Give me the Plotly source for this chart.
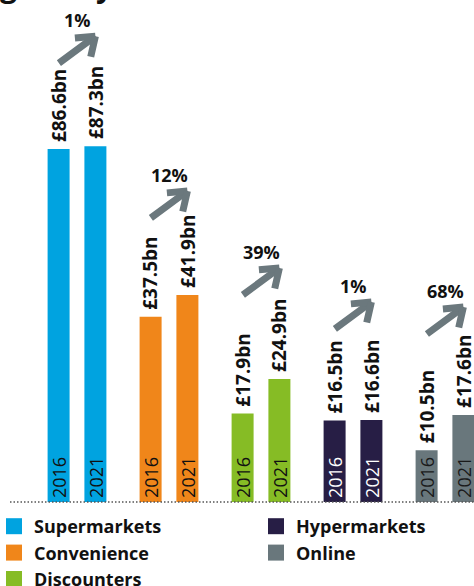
import plotly.graph_objects as go

channels = ["Supermarkets", "Convenience", "Discounters", "Hypermarkets", "Online"]
years = ["2016", "2021"]
sales_2016 = [86.6, 37.5, 17.9, 16.5, 10.5]
sales_2021 = [87.3, 41.9, 24.9, 16.6, 17.6]
growth_labels = ["1%", "12%", "39%", "1%", "68%"]

colors = ["#00A3E0", "#F0861A", "#86BC25", "#271E45", "#69777C"]
year_text_colors = ["#111111", "#111111", "#111111", "#FFFFFF", "#1A1A1A"]
legend_groups = ["legend", "legend", "legend", "legend2", "legend2"]
arrow_lift_px = [110, 104, 111, 118, 108]   # arrow head height above the 2021 bar

W, H = 474, 586
BASE_PX = 502            # pixel row of the zero line
PX_PER_BN = 4.94         # main scale
PX_PER_BN_SUPER = 4.076  # compressed scale for the supermarket pair
GROUP_PX = 92
FIRST_GROUP_PX = 77
OFFSET = 0.2
BAR_W = 22 / GROUP_PX
FONT = "Open Sans"
ARROW_COLOR = "#6B787D"

fig = go.Figure()

for i, ch in enumerate(channels):
    yax = "y2" if i == 0 else "y"
    fig.add_trace(go.Bar(
        x=[i - OFFSET, i + OFFSET],
        y=[sales_2016[i], sales_2021[i]],
        width=BAR_W,
        marker=dict(color=colors[i], line=dict(width=0)),
        name=ch,
        legendgroup=ch,
        showlegend=False,
        yaxis=yax,
        hovertemplate=ch + " %{customdata}: £%{y}bn<extra></extra>",
        customdata=years,
    ))
    # legend swatch (square key, larger than the default bar key)
    fig.add_trace(go.Scatter(
        x=[None], y=[None], mode="markers",
        marker=dict(symbol="square", size=16, color=colors[i]),
        name=ch, legendgroup=ch, legend=legend_groups[i],
        showlegend=True, hoverinfo="skip",
    ))

annotations = []
for i, ch in enumerate(channels):
    yref = "y2" if i == 0 else "y"
    vals = [sales_2016[i], sales_2021[i]]
    for j, yr in enumerate(years):
        xpos = i + (OFFSET if j else -OFFSET)
        # value label
        annotations.append(dict(
            x=xpos, y=vals[j], xref="x", yref=yref,
            text=f"£{vals[j]:.1f}bn", textangle=-90,
            xanchor="center", yanchor="bottom", yshift=5,
            showarrow=False,
            font=dict(family=FONT, size=19, color="#111111", weight="bold"),
        ))
        # year label inside bar
        annotations.append(dict(
            x=xpos, y=0, xref="x", yref=yref,
            text=yr, textangle=-90,
            xanchor="center", yanchor="bottom", yshift=2,
            showarrow=False,
            font=dict(family=FONT, size=18, color=year_text_colors[i]),
        ))
    # growth arrow (shaft + two chevron arms)
    lift = arrow_lift_px[i]
    head = dict(x=i + OFFSET, y=sales_2021[i], xref="x", yref=yref, yshift=lift,
                text="", showarrow=True, arrowhead=0, arrowwidth=7,
                arrowcolor=ARROW_COLOR, standoff=0, startstandoff=0)
    annotations.append(dict(head, ax=-38, ay=28))
    annotations.append(dict(head, ax=-22, ay=2))
    annotations.append(dict(head, ax=-5, ay=22))
    # growth label
    annotations.append(dict(
        x=i, y=sales_2021[i], xref="x", yref=yref, yshift=lift + 16,
        text=growth_labels[i], showarrow=False,
        xanchor="center", yanchor="middle",
        font=dict(family=FONT, size=18, color="#111111", weight="bold"),
    ))

# clipped title at the very top
annotations.append(dict(
    x=-2 / W, y=1 - 8 / H, xref="paper", yref="paper",
    text="grocery market", showarrow=False,
    xanchor="left", yanchor="bottom",
    font=dict(family=FONT, size=30, color="#111111", weight="bold"),
))

legend_font = dict(family=FONT, size=18, color="#111111", weight="bold")
fig.update_layout(
    width=W, height=H,
    margin=dict(l=0, r=0, t=0, b=0, autoexpand=False),
    paper_bgcolor="white", plot_bgcolor="white",
    barmode="overlay",
    showlegend=True,
    legend=dict(
        orientation="v", x=-6 / W, y=1 - 508 / H,
        xanchor="left", yanchor="top",
        font=legend_font, traceorder="normal",
        itemclick=False, itemdoubleclick=False, bgcolor="rgba(0,0,0,0)",
    ),
    legend2=dict(
        orientation="v", x=256 / W, y=1 - 508 / H,
        xanchor="left", yanchor="top",
        font=legend_font, traceorder="normal",
        itemclick=False, itemdoubleclick=False, bgcolor="rgba(0,0,0,0)",
    ),
    xaxis=dict(
        range=[-FIRST_GROUP_PX / GROUP_PX, (W - FIRST_GROUP_PX) / GROUP_PX],
        visible=False, fixedrange=True,
    ),
    yaxis=dict(
        range=[-(H - BASE_PX) / PX_PER_BN, BASE_PX / PX_PER_BN],
        visible=False, fixedrange=True,
    ),
    yaxis2=dict(
        range=[-(H - BASE_PX) / PX_PER_BN_SUPER, BASE_PX / PX_PER_BN_SUPER],
        overlaying="y", visible=False, fixedrange=True,
    ),
    annotations=annotations,
    shapes=[dict(
        type="line", xref="paper", yref="y",
        x0=10 / W, x1=1, y0=0, y1=0,
        line=dict(color="#555555", width=1.5, dash="1.5px,2px"),
        layer="above",
    )],
)

fig.write_html(
    "out.html",
    config={"displayModeBar": False},
    post_script="document.body.style.margin='0';document.body.style.overflow='hidden';",
)
